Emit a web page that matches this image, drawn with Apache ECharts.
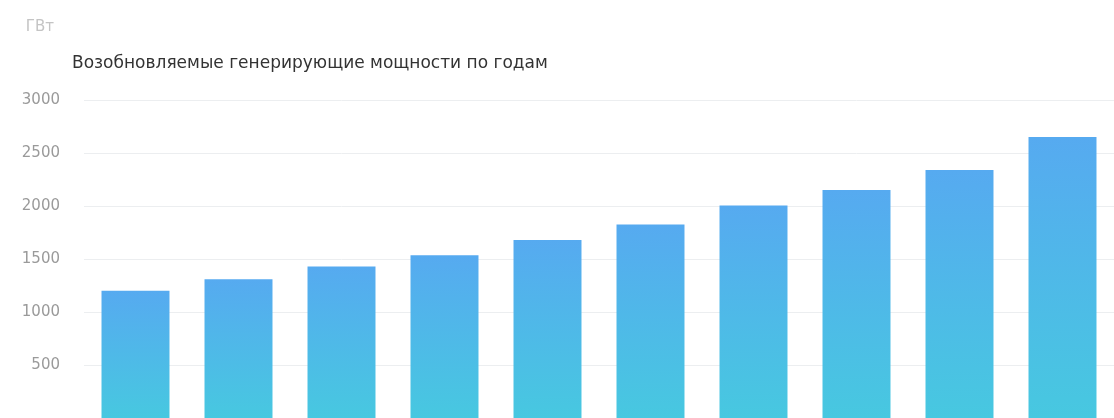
<!DOCTYPE html>
<html>
<head>
<meta charset="utf-8">
<script src="https://cdn.jsdelivr.net/npm/echarts@6/dist/echarts.min.js"></script>
<style>
  html, body { margin: 0; padding: 0; background: #fff; }
  #chart { width: 1114px; height: 418px; }
</style>
</head>
<body>
<div id="chart"></div>
<script>
// данные
var years = ['2010', '2011', '2012', '2013', '2014', '2015', '2016', '2017', '2018', '2019'];
var capacity = [1200, 1310, 1430, 1535, 1680, 1825, 2005, 2150, 2340, 2650];
var yTicks = { min: 0, max: 3000, interval: 500 };

var myChart = echarts.init(document.getElementById('chart'));

var option = {
    backgroundColor: '#fff',
    title: {
        text: 'Возобновляемые генерирующие мощности по годам',
        left: 67,
        top: 50,
        textStyle: { fontFamily: 'DejaVu Sans', fontSize: 17, fontWeight: 'normal', color: '#333' }
    },
    grid: { left: 84, top: 100, right: 0, bottom: -2 },
    xAxis: {
        type: 'category',
        data: years,
        axisLine: { show: false },
        axisTick: { show: false },
        axisLabel: { show: false }
    },
    yAxis: {
        type: 'value',
        min: yTicks.min,
        max: yTicks.max,
        interval: yTicks.interval,
        name: 'ГВт',
        nameGap: 65,
        nameTextStyle: { color: '#c4c4c4', fontSize: 15, align: 'right', padding: [0, 30, 0, 0], fontFamily: 'DejaVu Sans' },
        axisLabel: {
            color: '#9a9a9a', fontSize: 15, margin: 24, fontFamily: 'DejaVu Sans',
            formatter: function (v) { return v === 0 ? '' : String(v); }
        },
        axisLine: { show: false },
        axisTick: { show: false },
        splitLine: { lineStyle: { color: '#eceef0' } }
    },
    series: [{
        type: 'bar',
        data: capacity,
        barWidth: '66%',
        itemStyle: {
            color: new echarts.graphic.LinearGradient(0, 0, 0, 1, [
                { offset: 0, color: '#56aaf0' },
                { offset: 1, color: '#47c8e0' }
            ])
        }
    }]
};

myChart.setOption(option);
</script>
</body>
</html>
